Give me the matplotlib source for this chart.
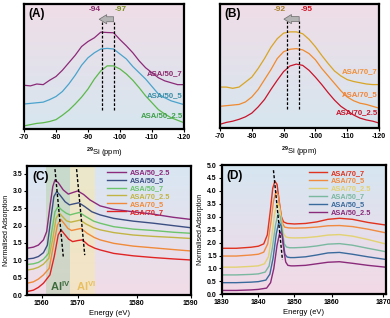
import numpy as np
import matplotlib
matplotlib.use('Agg')
import matplotlib.pyplot as plt
from matplotlib.colors import LinearSegmentedColormap

plt.rcParams['font.family'] = ['Liberation Sans', 'DejaVu Sans']
plt.rcParams['font.weight'] = 'bold'
plt.rcParams['axes.unicode_minus'] = False
plt.rcParams['mathtext.fontset'] = 'custom'
plt.rcParams['mathtext.rm'] = 'Liberation Sans:bold'
plt.rcParams['mathtext.bf'] = 'Liberation Sans:bold'

# ---- panel A: 29Si NMR, ASA/50 series (arbitrary intensity) ----
nmr_x = [-70, -72, -74, -76, -78, -80, -82, -84, -86, -88, -90, -92, -94, -96, -98,
         -100, -102, -104, -106, -108, -110, -112, -114, -116, -118, -120]
a50_7 = [0.35, 0.345, 0.36, 0.355, 0.39, 0.42, 0.47, 0.53, 0.59, 0.66, 0.70, 0.73, 0.775, 0.772, 0.77,
         0.715, 0.665, 0.61, 0.545, 0.49, 0.45, 0.41, 0.385, 0.37, 0.355, 0.355]
a50_5 = [0.20, 0.205, 0.21, 0.215, 0.235, 0.26, 0.30, 0.36, 0.43, 0.51, 0.57, 0.61, 0.64, 0.645, 0.64,
         0.60, 0.56, 0.50, 0.45, 0.40, 0.34, 0.28, 0.25, 0.225, 0.21, 0.195]
a50_25 = [0.025, 0.035, 0.045, 0.05, 0.06, 0.075, 0.11, 0.15, 0.20, 0.255, 0.32, 0.40, 0.465, 0.505, 0.505,
          0.48, 0.44, 0.39, 0.33, 0.265, 0.21, 0.155, 0.12, 0.09, 0.07, 0.05]

# ---- panel B: 29Si NMR, ASA/70 series ----
b70_7 = [0.33, 0.33, 0.32, 0.33, 0.37, 0.41, 0.48, 0.56, 0.65, 0.72, 0.765, 0.775, 0.775, 0.76, 0.715,
         0.655, 0.585, 0.52, 0.46, 0.42, 0.39, 0.375, 0.365, 0.355, 0.35, 0.35]
b70_5 = [0.175, 0.18, 0.185, 0.19, 0.21, 0.25, 0.31, 0.39, 0.47, 0.56, 0.615, 0.635, 0.64, 0.63, 0.60,
         0.55, 0.48, 0.42, 0.36, 0.30, 0.25, 0.22, 0.20, 0.19, 0.175, 0.16]
b70_25 = [0.03, 0.045, 0.055, 0.07, 0.09, 0.12, 0.17, 0.23, 0.31, 0.385, 0.455, 0.50, 0.515, 0.505, 0.465,
          0.41, 0.35, 0.285, 0.225, 0.175, 0.14, 0.105, 0.08, 0.065, 0.055, 0.04]

# ---- panel C: Al K-edge XANES ----
c_ticks = [1560, 1570, 1580, 1590]
c_x_50_25 = [1556.0, 1557.7, 1559.1, 1560.5, 1561.4, 1562.3, 1563.1, 1563.7, 1564.6, 1566.0, 1567.4,
             1568.8, 1570.0, 1571.0, 1572.1, 1573.8, 1576.1, 1579.4, 1583.1, 1586.8, 1590]
c_y_50_25 = [1.35, 1.38, 1.44, 1.59, 1.83, 2.55, 3.13, 3.32, 3.24, 3.03, 2.91, 2.96, 3.00, 2.90, 2.74,
             2.57, 2.47, 2.40, 2.33, 2.24, 2.18]
c_x_50_5 = [1556.0, 1557.7, 1559.1, 1560.5, 1561.6, 1562.5, 1563.4, 1564.2, 1565.1, 1566.5, 1567.7,
            1569.0, 1570.2, 1571.2, 1572.4, 1573.8, 1576.1, 1579.4, 1583.1, 1586.8, 1590]
c_y_50_5 = [1.04, 1.06, 1.11, 1.22, 1.44, 2.16, 2.84, 2.98, 2.88, 2.69, 2.60, 2.63, 2.66, 2.55, 2.40,
            2.31, 2.21, 2.13, 2.07, 2.00, 1.94]
c_x_50_7 = [1556.0, 1557.7, 1559.1, 1560.5, 1561.9, 1562.8, 1563.7, 1564.6, 1565.6, 1566.8, 1567.9,
            1569.3, 1570.3, 1571.4, 1572.7, 1573.8, 1576.1, 1579.4, 1583.1, 1586.8, 1590]
c_y_50_7 = [0.88, 0.90, 0.94, 1.03, 1.20, 1.83, 2.40, 2.55, 2.45, 2.36, 2.31, 2.35, 2.38, 2.26, 2.13,
            2.07, 1.97, 1.90, 1.86, 1.81, 1.78]
c_x_70_25 = [1556.0, 1557.7, 1559.1, 1560.5, 1562.0, 1563.1, 1564.0, 1564.9, 1565.8, 1566.9, 1568.1,
             1569.4, 1570.4, 1571.5, 1572.7, 1573.8, 1576.1, 1579.4, 1583.1, 1586.8, 1590]
c_y_70_25 = [0.72, 0.75, 0.80, 0.89, 1.06, 1.63, 2.21, 2.36, 2.26, 2.14, 2.10, 2.13, 2.16, 2.04, 1.94,
             1.88, 1.80, 1.73, 1.69, 1.66, 1.63]
c_x_70_5 = [1556.0, 1557.7, 1559.1, 1560.5, 1562.1, 1563.2, 1564.4, 1565.3, 1566.2, 1567.3, 1568.3,
            1569.6, 1570.6, 1571.6, 1572.8, 1573.8, 1576.1, 1579.4, 1583.1, 1586.8, 1590]
c_y_70_5 = [0.34, 0.38, 0.46, 0.58, 0.77, 1.39, 2.02, 2.18, 2.07, 1.92, 1.86, 1.89, 1.92, 1.78, 1.66,
            1.59, 1.49, 1.41, 1.36, 1.31, 1.27]
c_x_70_7 = [1556.0, 1557.7, 1559.1, 1560.5, 1562.3, 1563.5, 1564.6, 1565.4, 1566.3, 1567.5, 1568.6,
            1570.0, 1570.8, 1571.8, 1572.9, 1573.8, 1576.1, 1579.4, 1583.1, 1586.8, 1590]
c_y_70_7 = [0.10, 0.14, 0.22, 0.34, 0.58, 1.11, 1.73, 1.88, 1.76, 1.61, 1.54, 1.57, 1.59, 1.44, 1.35,
            1.30, 1.20, 1.13, 1.08, 1.04, 1.01]

# ---- panel D: Si K-edge XANES ----
d_ticks = [1830, 1840, 1850, 1860, 1870]
d_x_70_7 = [1830, 1834, 1838, 1840, 1841.5, 1842.5, 1843.3, 1844.0, 1844.6, 1845.2, 1845.8, 1846.4,
            1847.0, 1848.0, 1850, 1853, 1856, 1859, 1861.5, 1864, 1867, 1870.4]
d_y_70_7 = [1.78, 1.78, 1.82, 1.86, 1.95, 2.3, 3.2, 4.1, 4.38, 4.25, 3.6, 3.0,
            2.8, 2.74, 2.72, 2.74, 2.8, 2.9, 2.94, 2.9, 2.78, 2.68]
d_x_70_5 = [1830, 1834, 1838, 1840, 1841.5, 1842.6, 1843.5, 1844.2, 1844.9, 1845.5, 1846.1, 1846.7,
            1847.3, 1848.3, 1850, 1853, 1856, 1859, 1861.5, 1864, 1867, 1870.4]
d_y_70_5 = [1.48, 1.48, 1.52, 1.55, 1.63, 1.95, 2.8, 3.6, 3.97, 3.85, 3.25, 2.75,
            2.6, 2.57, 2.56, 2.57, 2.6, 2.65, 2.66, 2.62, 2.52, 2.38]
d_x_70_25 = [1830, 1834, 1838, 1840, 1841.7, 1842.8, 1843.7, 1844.5, 1845.2, 1845.8, 1846.4, 1847.0,
             1847.6, 1848.5, 1850, 1853, 1856, 1859, 1861.5, 1864, 1867, 1870.4]
d_y_70_25 = [1.05, 1.05, 1.08, 1.10, 1.18, 1.45, 2.2, 3.1, 3.52, 3.4, 2.85, 2.35,
             2.22, 2.19, 2.18, 2.19, 2.23, 2.29, 2.31, 2.25, 2.12, 1.95]
d_x_50_7 = [1830, 1834, 1838, 1840, 1841.9, 1843.0, 1843.9, 1844.8, 1845.5, 1846.1, 1846.7, 1847.2,
            1847.8, 1848.7, 1850, 1853, 1856, 1859, 1861.5, 1864, 1867, 1870.4]
d_y_50_7 = [0.75, 0.75, 0.77, 0.79, 0.86, 1.1, 1.8, 2.7, 3.13, 3.0, 2.4, 1.95,
            1.83, 1.80, 1.80, 1.82, 1.87, 1.94, 1.96, 1.9, 1.78, 1.65]
d_x_50_5 = [1830, 1834, 1838, 1840, 1842.1, 1843.2, 1844.1, 1845.0, 1845.7, 1846.3, 1846.9, 1847.4,
            1848.0, 1848.9, 1850, 1853, 1856, 1859, 1861.5, 1864, 1867, 1870.4]
d_y_50_5 = [0.45, 0.45, 0.47, 0.49, 0.55, 0.78, 1.4, 2.35, 2.8, 2.65, 2.0, 1.55,
            1.44, 1.42, 1.42, 1.45, 1.52, 1.6, 1.62, 1.55, 1.45, 1.35]
d_x_50_25 = [1830, 1834, 1838, 1840, 1842.3, 1843.4, 1844.3, 1845.2, 1846.0, 1846.6, 1847.1, 1847.6,
             1848.2, 1849.1, 1850, 1853, 1856, 1859, 1861.5, 1864, 1867, 1870.4]
d_y_50_25 = [0.15, 0.15, 0.17, 0.19, 0.24, 0.45, 1.0, 1.9, 2.42, 2.3, 1.7, 1.25,
             1.12, 1.1, 1.1, 1.12, 1.18, 1.24, 1.26, 1.2, 1.12, 1.05]

# colours
col_p = '#8c2a78'
col_b = '#4aa3cc'
col_g = '#5cb84a'
col_y = '#d8a526'
col_o = '#f08a2e'
col_r = '#c8142a'

fig = plt.figure(figsize=(3.9, 3.18), dpi=100)

def background(pos, top, bottom):
    bg = fig.add_axes(pos, zorder=0)
    cmap = LinearSegmentedColormap.from_list('bg', [top, bottom])
    bg.imshow(np.linspace(0, 1, 256).reshape(-1, 1), cmap=cmap, aspect='auto',
              extent=[0, 1, 0, 1], origin='upper')
    bg.set_axis_off()
    ax = fig.add_axes(pos, zorder=1)
    ax.set_facecolor('none')
    for s in ax.spines.values():
        s.set_linewidth(1.6)
    ax.tick_params(labelsize=5, length=2, width=0.8, pad=1.5)
    return ax

def nmr_panel(pos, tag, curves, names, label_cols, label_ys, shift_lines, shift_txt, shift_cols):
    ax = background(pos, '#f0dde7', '#d6e6ef')
    for y, c in zip(curves, [n[1] for n in names]):
        ax.plot(nmr_x, y, color=c, lw=0.9)
    for (txt, _), c, ly in zip(names, label_cols, label_ys):
        ax.text(-119.6, ly, txt, color=c, fontsize=5.6, ha='right', va='center')
    for sx in shift_lines:
        ax.plot([sx, sx], [0.155, 0.86], color='black', lw=0.9, ls=(0, (2.2, 1.4)))
    ax.annotate('', xy=(shift_lines[0] + 1.0, 0.878), xytext=(shift_lines[1], 0.878),
                arrowprops=dict(arrowstyle='simple,head_width=1.1,head_length=0.9,tail_width=0.6',
                                mutation_scale=6, fc='#b4b4b4', ec='#6a6a6a', lw=0.5,
                                shrinkA=0, shrinkB=0))
    for sx, t, c, ha in zip(shift_lines, shift_txt, shift_cols, ['right', 'left']):
        ax.text(sx + (0.4 if ha == 'right' else -0.4), 0.955, t, color=c, fontsize=6, ha=ha, va='center')
    ax.set_xlim(-70, -120)
    ax.set_ylim(0, 1)
    ax.set_yticks([])
    ax.set_xticks([-70, -80, -90, -100, -110, -120])
    ax.set_xlabel(r'$^{\mathbf{29}}$Si (ppm)', fontsize=5.5, labelpad=3)
    ax.text(0.03, 0.965, tag, transform=ax.transAxes, fontsize=8.5, va='top', ha='left')
    return ax

nmr_panel([0.0615, 0.5943, 0.4103, 0.3931], '(A)', [a50_7, a50_5, a50_25],
          [('ASA/50_7', col_p), ('ASA/50_5', col_b), ('ASA/50_2.5', col_g)],
          ['#8c2a6e', '#3a8ea8', '#3ea04a'], [0.44, 0.266, 0.109],
          [-94.5, -98.0], ['-94', '-97'], ['#8c2a6e', '#7a8f1e'])

nmr_panel([0.5641, 0.5975, 0.4077, 0.390], '(B)', [b70_7, b70_5, b70_25],
          [('ASA/70_7', col_y), ('ASA/70_5', col_o), ('ASA/70_2.5', col_r)],
          ['#f0913a', '#f0843a', '#c8142a'], [0.456, 0.273, 0.12],
          [-91.1, -94.9], ['-92', '-95'], ['#a8802a', '#d01020'])

# ---- panel C ----
c_knots = [1556, 1560, 1570, 1580, 1590]
c_pos = [0, 43, 151, 328, 490]
axc = background([0.070, 0.0723, 0.419, 0.4057], '#d8e7f3', '#f1dce7')
axc.set_xscale('function', functions=(lambda x: np.interp(x, c_knots, c_pos),
                                      lambda p: np.interp(p, c_pos, c_knots)))
axc.axvspan(1561.2, 1567.9, color='#b9d1ad', alpha=0.55, lw=0)
axc.axvspan(1567.9, 1572.9, color='#f7e9b0', alpha=0.6, lw=0)
c_series = [('ASA/50_2.5', c_x_50_25, c_y_50_25, '#8c2a7c'),
            ('ASA/50_5', c_x_50_5, c_y_50_5, '#3c4f82'),
            ('ASA/50_7', c_x_50_7, c_y_50_7, '#6cc46c'),
            ('ASA/70_2.5', c_x_70_25, c_y_70_25, '#c2b444'),
            ('ASA/70_5', c_x_70_5, c_y_70_5, '#f08a3a'),
            ('ASA/70_7', c_x_70_7, c_y_70_7, '#e02424')]
for name, x, y, c in c_series:
    axc.plot(x, y, color=c, lw=1.0, label=name)
axc.plot([1563.7, 1566.0], [3.63, 1.11], color='black', lw=1.0, ls=(0, (2.2, 1.4)))
axc.plot([1569.7, 1571.2], [3.63, 1.15], color='black', lw=1.0, ls=(0, (2.2, 1.4)))
axc.text(1565.1, 0.27, r'Al$^{\mathbf{IV}}$', color='#3d6b3d', fontsize=8, ha='center', va='center')
axc.text(1571.4, 0.27, r'Al$^{\mathbf{VI}}$', color='#e8c060', fontsize=8, ha='center', va='center')
axc.set_xlim(1556, 1590)
axc.set_ylim(0, 3.72)
axc.set_xticks(c_ticks)
axc.set_yticks(np.arange(0, 3.6, 0.5))
axc.yaxis.set_major_formatter('{x:.1f}')
axc.set_xlabel('Energy (eV)', fontsize=5.5, labelpad=2)
axc.set_ylabel('Normalised Adsorption', fontsize=5, labelpad=2)
axc.text(0.03, 0.965, '(C)', transform=axc.transAxes, fontsize=8.5, va='top', ha='left')
axc.legend(loc='upper left', bbox_to_anchor=(0.49, 0.975), frameon=False, fontsize=5.3,
           handlelength=2.5, handletextpad=0.5, labelspacing=0.1, borderpad=0,
           borderaxespad=0, labelcolor='linecolor')

# ---- panel D ----
d_knots = [1830, 1840, 1850, 1860, 1870, 1870.45]
d_pos = [0, 110, 218, 330, 485, 492]
axd = background([0.5684, 0.0745, 0.4205, 0.4066], '#d5e6f1', '#f3d9e6')
axd.set_xscale('function', functions=(lambda x: np.interp(x, d_knots, d_pos),
                                      lambda p: np.interp(p, d_pos, d_knots)))
d_series = [('ASA/70_7', d_x_70_7, d_y_70_7, '#e0321e'),
            ('ASA/70_5', d_x_70_5, d_y_70_5, '#f08a40'),
            ('ASA/70_2.5', d_x_70_25, d_y_70_25, '#e2d272'),
            ('ASA/50_7', d_x_50_7, d_y_50_7, '#7ab8a0'),
            ('ASA/50_5', d_x_50_5, d_y_50_5, '#3a6a9c'),
            ('ASA/50_2.5', d_x_50_25, d_y_50_25, '#8a2a7a')]
for name, x, y, c in d_series:
    axd.plot(x, y, color=c, lw=1.0, label=name)
axd.plot([1844.2, 1846.7], [4.8, 1.33], color='black', lw=1.0, ls=(0, (2.2, 1.4)))
axd.set_xlim(1830, 1870.45)
axd.set_ylim(0, 5.0)
axd.set_xticks(d_ticks)
axd.set_yticks(np.arange(0, 5.01, 0.5))
axd.yaxis.set_major_formatter('{x:.1f}')
axd.set_xlabel('Energy (eV)', fontsize=5.5, labelpad=2)
axd.set_ylabel('Normalised Adsorption', fontsize=5, labelpad=2)
axd.text(0.03, 0.965, '(D)', transform=axd.transAxes, fontsize=8.5, va='top', ha='left')
axd.legend(loc='upper left', bbox_to_anchor=(0.53, 0.965), frameon=False, fontsize=5.3,
           handlelength=2.5, handletextpad=0.5, labelspacing=0.1, borderpad=0,
           borderaxespad=0, labelcolor='linecolor')

fig.savefig('out.png', dpi=100)
